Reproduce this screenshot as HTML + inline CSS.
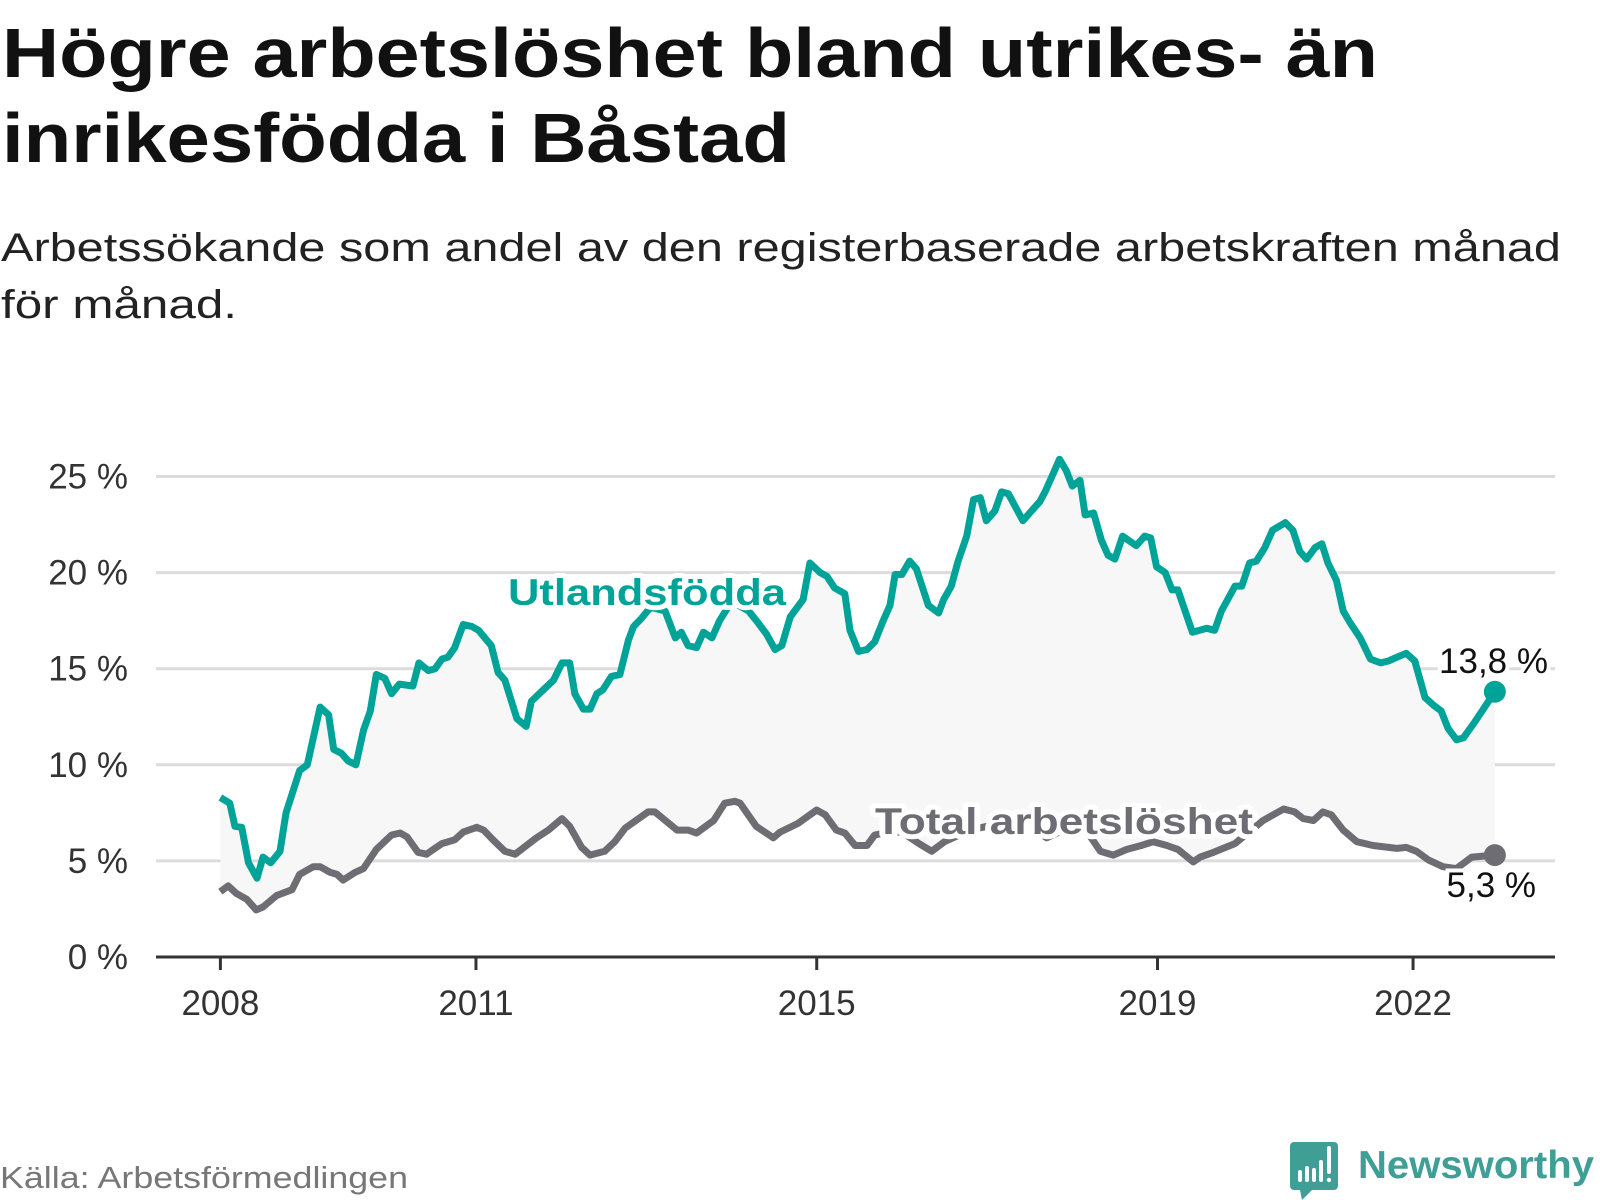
<!DOCTYPE html>
<html><head><meta charset="utf-8"><style>
html,body{margin:0;padding:0;background:#fff;}
svg{display:block;font-family:"Liberation Sans",sans-serif;}
</style></head><body>
<svg id="chart" width="1600" height="1200" viewBox="0 0 1600 1200">
<text x="2" y="77" font-size="70" font-weight="bold" fill="#111" textLength="1376" lengthAdjust="spacingAndGlyphs">Högre arbetslöshet bland utrikes- än</text>
<text x="2" y="162" font-size="70" font-weight="bold" fill="#111" textLength="788" lengthAdjust="spacingAndGlyphs">inrikesfödda i Båstad</text>
<text x="1" y="261" font-size="40" fill="#222" textLength="1560" lengthAdjust="spacingAndGlyphs">Arbetssökande som andel av den registerbaserade arbetskraften månad</text>
<text x="1" y="318" font-size="40" fill="#222" textLength="236" lengthAdjust="spacingAndGlyphs">för månad.</text>
<g id="grid"></g>
<g id="plot"></g>
<g id="xaxis"></g>
<g id="yaxis"></g>
<text x="0" y="1188" font-size="31" fill="#777" textLength="408" lengthAdjust="spacingAndGlyphs">Källa: Arbetsförmedlingen</text>
<g>
<path d="M1294 1142 h40 a4 4 0 0 1 4 4 v40 a4 4 0 0 1 -4 4 h-22 l-10 10 l-2 -10 h-6 a4 4 0 0 1 -4 -4 v-40 a4 4 0 0 1 4 -4z" fill="#3f9e96"/>
<rect x="1298" y="1170" width="4" height="12" rx="2" fill="#fff"/>
<rect x="1305" y="1166" width="4" height="16" rx="2" fill="#fff"/>
<rect x="1312" y="1168" width="4" height="14" rx="2" fill="#fff"/>
<rect x="1319" y="1160" width="4" height="22" rx="2" fill="#fff"/>
<rect x="1327" y="1146" width="4" height="28" rx="2" fill="#fff"/>
<circle cx="1329" cy="1180" r="2.2" fill="#fff"/>
<text x="1358" y="1178" font-size="39" font-weight="bold" fill="#3f9e96" textLength="236" lengthAdjust="spacingAndGlyphs">Newsworthy</text>
</g>
</svg>
<script>
const foreignYears=[2008.0,2008.11,2008.17,2008.25,2008.33,2008.43,2008.5,2008.59,2008.7,2008.77,2008.93,2009.02,2009.17,2009.27,2009.33,2009.42,2009.5,2009.59,2009.68,2009.76,2009.83,2009.93,2010.01,2010.1,2010.26,2010.33,2010.44,2010.52,2010.6,2010.67,2010.75,2010.85,2010.95,2011.03,2011.18,2011.26,2011.34,2011.48,2011.59,2011.65,2011.79,2011.91,2012.01,2012.1,2012.16,2012.26,2012.34,2012.42,2012.49,2012.59,2012.69,2012.79,2012.85,2012.94,2013.05,2013.22,2013.34,2013.41,2013.49,2013.59,2013.67,2013.77,2013.86,2014.0,2014.2,2014.31,2014.41,2014.51,2014.59,2014.69,2014.84,2014.92,2015.04,2015.12,2015.21,2015.33,2015.39,2015.49,2015.59,2015.68,2015.78,2015.86,2015.92,2016.0,2016.09,2016.17,2016.31,2016.43,2016.49,2016.58,2016.66,2016.76,2016.84,2016.92,2016.99,2017.09,2017.17,2017.25,2017.42,2017.52,2017.62,2017.68,2017.76,2017.85,2017.93,2018.0,2018.09,2018.15,2018.25,2018.34,2018.42,2018.5,2018.59,2018.75,2018.85,2018.92,2018.99,2019.09,2019.17,2019.24,2019.41,2019.58,2019.67,2019.75,2019.91,2019.99,2020.08,2020.16,2020.26,2020.35,2020.5,2020.59,2020.67,2020.75,2020.85,2020.93,2021.0,2021.1,2021.18,2021.26,2021.38,2021.5,2021.62,2021.71,2021.81,2021.92,2022.02,2022.14,2022.24,2022.33,2022.41,2022.51,2022.59,2022.72,2022.96];
const foreignValues=[8.3,8.0,6.8,6.75,4.9,4.1,5.2,4.9,5.5,7.5,9.7,10.0,13.0,12.6,10.8,10.6,10.2,10.0,11.8,12.8,14.7,14.5,13.7,14.2,14.1,15.3,14.9,15.0,15.5,15.6,16.1,17.3,17.2,17.0,16.2,14.8,14.4,12.4,12.0,13.3,13.9,14.4,15.3,15.3,13.7,12.9,12.9,13.7,13.9,14.6,14.7,16.5,17.2,17.6,18.2,18.0,16.6,16.9,16.2,16.1,16.9,16.6,17.5,18.5,18.0,17.4,16.8,16.0,16.2,17.7,18.6,20.5,20.0,19.8,19.2,18.9,17.0,15.9,16.0,16.4,17.5,18.3,19.9,19.9,20.6,20.2,18.3,17.9,18.6,19.3,20.6,21.9,23.8,23.9,22.7,23.2,24.2,24.1,22.7,23.2,23.7,24.2,25.0,25.9,25.3,24.5,24.8,23.0,23.1,21.7,20.9,20.7,21.9,21.4,21.9,21.8,20.3,20.0,19.1,19.1,16.9,17.1,17.0,18.0,19.3,19.3,20.5,20.6,21.3,22.2,22.6,22.2,21.1,20.7,21.3,21.5,20.5,19.6,18.0,17.4,16.6,15.5,15.3,15.4,15.6,15.8,15.4,13.5,13.1,12.8,11.9,11.3,11.4,12.2,13.8];
const totalYears=[2008.0,2008.09,2008.19,2008.31,2008.42,2008.5,2008.66,2008.84,2008.93,2009.09,2009.17,2009.29,2009.37,2009.44,2009.58,2009.68,2009.83,2010.01,2010.11,2010.19,2010.32,2010.42,2010.5,2010.6,2010.75,2010.85,2011.01,2011.09,2011.2,2011.34,2011.46,2011.71,2011.85,2012.01,2012.1,2012.24,2012.34,2012.51,2012.63,2012.75,2013.02,2013.1,2013.36,2013.49,2013.59,2013.79,2013.92,2014.04,2014.1,2014.29,2014.49,2014.57,2014.78,2015.0,2015.1,2015.23,2015.33,2015.45,2015.59,2015.68,2015.85,2016.0,2016.2,2016.35,2016.5,2016.8,2017.0,2017.3,2017.5,2017.7,2017.9,2018.1,2018.33,2018.48,2018.64,2018.81,2018.95,2019.11,2019.24,2019.42,2019.5,2019.63,2019.77,2019.91,2020.24,2020.48,2020.61,2020.71,2020.83,2020.94,2021.04,2021.18,2021.34,2021.53,2021.81,2021.92,2022.04,2022.18,2022.35,2022.51,2022.69,2022.96];
const totalValues=[3.4,3.7,3.3,3.0,2.45,2.6,3.2,3.5,4.3,4.7,4.7,4.4,4.3,4.0,4.4,4.6,5.6,6.35,6.45,6.25,5.45,5.35,5.6,5.9,6.1,6.5,6.75,6.6,6.1,5.5,5.35,6.2,6.6,7.2,6.8,5.7,5.3,5.5,6.0,6.7,7.55,7.55,6.6,6.6,6.45,7.1,8.0,8.1,8.0,6.8,6.2,6.5,6.95,7.65,7.4,6.6,6.45,5.8,5.8,6.35,6.5,6.5,5.9,5.5,6.0,6.6,6.8,6.4,6.8,6.2,6.6,7.0,5.5,5.3,5.6,5.8,6.0,5.8,5.6,4.95,5.2,5.4,5.65,5.9,7.1,7.7,7.55,7.2,7.1,7.55,7.4,6.6,6.0,5.8,5.65,5.7,5.5,5.05,4.7,4.6,5.2,5.3];
const yTicks=[0,5,10,15,20,25];
const yTickLabels=["0 %","5 %","10 %","15 %","20 %","25 %"];
const xTicks=[2008,2011,2015,2019,2022];
const xTickLabels=["2008","2011","2015","2019","2022"];
const seriesLabels=["Utlandsfödda","Total arbetslöshet"];
const endLabels=["13,8 %","5,3 %"];

const NS="http://www.w3.org/2000/svg";
const X0=220.4, PXY=85.19, Y0=957, PXV=19.22, L=156, R=1555;
const xs=v=>X0+(v-2008)*PXY;
const ys=v=>Y0-v*PXV;
function mk(tag,attrs,parent){const e=document.createElementNS(NS,tag);for(const k in attrs)e.setAttribute(k,attrs[k]);parent.appendChild(e);return e;}
const grid=document.getElementById('grid'),plot=document.getElementById('plot'),xa=document.getElementById('xaxis'),ya=document.getElementById('yaxis');
yTicks.forEach((t,i)=>{
  if(t>0){const g=mk('line',{x1:L,x2:R,y1:ys(t),y2:ys(t),stroke:'#dcdcdc','stroke-width':3},grid);
  
  }
  const tx=mk('text',{x:128,y:ys(t)+12,'font-size':35,fill:'#333','text-anchor':'end'},ya);
  tx.textContent=yTickLabels[i];
  
  
});
function pts(xv,yv){return xv.map((x,i)=>xs(x).toFixed(1)+','+ys(yv[i]).toFixed(1));}
const fp=pts(foreignYears,foreignValues), tp=pts(totalYears,totalValues).reverse();
const area=mk('polygon',{points:fp.concat(tp).join(' '),fill:'#f7f7f7'},plot);


const tl=mk('polyline',{points:pts(totalYears,totalValues).join(' '),fill:'none',stroke:'#6e6d73','stroke-width':7,'stroke-linejoin':'round'},plot);


const fl=mk('polyline',{points:fp.join(' '),fill:'none',stroke:'#00a398','stroke-width':7,'stroke-linejoin':'round'},plot);


const l1=mk('text',{x:647,y:605,'font-size':37,'font-weight':'bold',fill:'#00a398','text-anchor':'middle',stroke:'#fff','stroke-width':10,'paint-order':'stroke','stroke-linejoin':'round',textLength:278,lengthAdjust:'spacingAndGlyphs'},plot);
l1.textContent=seriesLabels[0];


const l2=mk('text',{x:1064,y:834,'font-size':37,'font-weight':'bold',fill:'#6e6d73','text-anchor':'middle',stroke:'#fff','stroke-width':10,'paint-order':'stroke','stroke-linejoin':'round',textLength:378,lengthAdjust:'spacingAndGlyphs'},plot);
l2.textContent=seriesLabels[1];


const fLast=foreignValues.length-1, tLast=totalValues.length-1;
const d1=mk('circle',{cx:xs(foreignYears[fLast]),cy:ys(foreignValues[fLast]),r:11,fill:'#00a398'},plot);


const d2=mk('circle',{cx:xs(totalYears[tLast]),cy:ys(totalValues[tLast]),r:11,fill:'#6e6d73'},plot);


const e1=mk('text',{x:1548,y:ys(foreignValues[fLast])-19,'font-size':35,fill:'#111','text-anchor':'end',stroke:'#fff','stroke-width':8,'paint-order':'stroke'},plot);
e1.textContent=endLabels[0];


const e2=mk('text',{x:1536,y:ys(totalValues[tLast])+42,'font-size':35,fill:'#111','text-anchor':'end',stroke:'#fff','stroke-width':8,'paint-order':'stroke'},plot);
e2.textContent=endLabels[1];


const ax=mk('line',{x1:L,x2:R,y1:Y0,y2:Y0,stroke:'#333','stroke-width':3},xa);


xTicks.forEach((t,i)=>{
  const tk=mk('line',{x1:xs(t),x2:xs(t),y1:Y0,y2:Y0+13,stroke:'#333','stroke-width':3},xa);
  
  
  const tx=mk('text',{x:xs(t),y:1015,'font-size':35,fill:'#333','text-anchor':'middle'},xa);
  tx.textContent=xTickLabels[i];
  
  
});
</script>
</body></html>
